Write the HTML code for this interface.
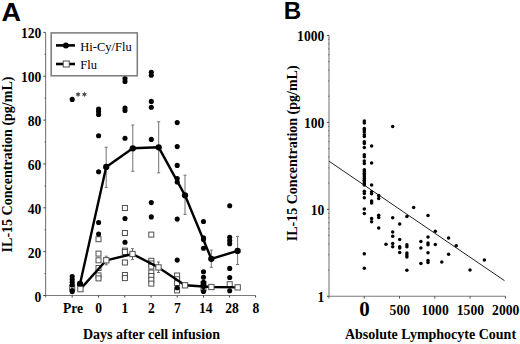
<!DOCTYPE html>
<html><head><meta charset="utf-8"><style>
html,body{margin:0;padding:0;background:#fff;}
body{width:520px;height:344px;overflow:hidden;}
svg{display:block;}
.tl{font-family:"Liberation Serif",serif;font-weight:bold;font-size:13.6px;fill:#000;}
.tt{font-family:"Liberation Serif",serif;font-weight:bold;font-size:14px;fill:#000;}
.lg{font-family:"Liberation Serif",serif;font-size:13.1px;fill:#000;}
.pl{font-family:"Liberation Sans",sans-serif;font-weight:bold;fill:#000;}
</style></head><body>
<svg width="520" height="344" viewBox="0 0 520 344">
<rect width="520" height="344" fill="#fff"/>
<line x1="45.6" y1="32.4" x2="45.6" y2="297.5" stroke="#7a7a7a" stroke-width="1.1"/>
<line x1="43.4" y1="295.5" x2="255.8" y2="295.5" stroke="#7a7a7a" stroke-width="1.1"/>
<line x1="43.4" y1="295.50" x2="45.6" y2="295.50" stroke="#444" stroke-width="1"/>
<text x="41.3" y="301.50" class="tl" text-anchor="end">0</text>
<line x1="43.4" y1="251.65" x2="45.6" y2="251.65" stroke="#444" stroke-width="1"/>
<text x="41.3" y="257.65" class="tl" text-anchor="end">20</text>
<line x1="43.4" y1="207.80" x2="45.6" y2="207.80" stroke="#444" stroke-width="1"/>
<text x="41.3" y="213.80" class="tl" text-anchor="end">40</text>
<line x1="43.4" y1="163.95" x2="45.6" y2="163.95" stroke="#444" stroke-width="1"/>
<text x="41.3" y="169.95" class="tl" text-anchor="end">60</text>
<line x1="43.4" y1="120.10" x2="45.6" y2="120.10" stroke="#444" stroke-width="1"/>
<text x="41.3" y="126.10" class="tl" text-anchor="end">80</text>
<line x1="43.4" y1="76.25" x2="45.6" y2="76.25" stroke="#444" stroke-width="1"/>
<text x="41.3" y="82.25" class="tl" text-anchor="end">100</text>
<line x1="43.4" y1="32.40" x2="45.6" y2="32.40" stroke="#444" stroke-width="1"/>
<text x="41.3" y="38.40" class="tl" text-anchor="end">120</text>
<line x1="44.6" y1="273.57" x2="45.6" y2="273.57" stroke="#444" stroke-width="1"/>
<line x1="44.6" y1="229.72" x2="45.6" y2="229.72" stroke="#444" stroke-width="1"/>
<line x1="44.6" y1="185.88" x2="45.6" y2="185.88" stroke="#444" stroke-width="1"/>
<line x1="44.6" y1="142.03" x2="45.6" y2="142.03" stroke="#444" stroke-width="1"/>
<line x1="44.6" y1="98.17" x2="45.6" y2="98.17" stroke="#444" stroke-width="1"/>
<line x1="44.6" y1="54.32" x2="45.6" y2="54.32" stroke="#444" stroke-width="1"/>
<line x1="72.2" y1="295.5" x2="72.2" y2="297.6" stroke="#444" stroke-width="1"/>
<text x="73.00" y="313.3" class="tl" text-anchor="middle">Pre</text>
<line x1="98.5" y1="295.5" x2="98.5" y2="297.6" stroke="#444" stroke-width="1"/>
<text x="98.70" y="313.3" class="tl" text-anchor="middle">0</text>
<line x1="124.8" y1="295.5" x2="124.8" y2="297.6" stroke="#444" stroke-width="1"/>
<text x="125.00" y="313.3" class="tl" text-anchor="middle">1</text>
<line x1="151.2" y1="295.5" x2="151.2" y2="297.6" stroke="#444" stroke-width="1"/>
<text x="151.40" y="313.3" class="tl" text-anchor="middle">2</text>
<line x1="177.2" y1="295.5" x2="177.2" y2="297.6" stroke="#444" stroke-width="1"/>
<text x="177.40" y="313.3" class="tl" text-anchor="middle">7</text>
<line x1="203.5" y1="295.5" x2="203.5" y2="297.6" stroke="#444" stroke-width="1"/>
<text x="205.70" y="313.3" class="tl" text-anchor="middle">14</text>
<line x1="229.6" y1="295.5" x2="229.6" y2="297.6" stroke="#444" stroke-width="1"/>
<text x="232.10" y="313.3" class="tl" text-anchor="middle">28</text>
<line x1="255.6" y1="295.5" x2="255.6" y2="297.6" stroke="#444" stroke-width="1"/>
<text x="255.80" y="313.3" class="tl" text-anchor="middle">8</text>
<text x="151.5" y="338.8" class="tt" text-anchor="middle">Days after cell infusion</text>
<text transform="translate(11.6,164.5) rotate(-90)" class="tt" text-anchor="middle">IL-15 Concentration (pg/mL)</text>
<text transform="translate(1.4,20.7) scale(1.06,1)" class="pl" style="font-size:25.5px">A</text>
<rect x="69.70" y="285.10" width="5.0" height="5.0" fill="#fff" stroke="#505050" stroke-width="1"/>
<rect x="96.00" y="236.70" width="5.0" height="5.0" fill="#fff" stroke="#505050" stroke-width="1"/>
<rect x="96.00" y="251.10" width="5.0" height="5.0" fill="#fff" stroke="#505050" stroke-width="1"/>
<rect x="96.00" y="257.80" width="5.0" height="5.0" fill="#fff" stroke="#505050" stroke-width="1"/>
<rect x="96.00" y="265.50" width="5.0" height="5.0" fill="#fff" stroke="#505050" stroke-width="1"/>
<rect x="96.00" y="272.90" width="5.0" height="5.0" fill="#fff" stroke="#505050" stroke-width="1"/>
<rect x="96.00" y="275.90" width="5.0" height="5.0" fill="#fff" stroke="#505050" stroke-width="1"/>
<rect x="122.40" y="205.50" width="5.0" height="5.0" fill="#fff" stroke="#505050" stroke-width="1"/>
<rect x="122.40" y="230.50" width="5.0" height="5.0" fill="#fff" stroke="#505050" stroke-width="1"/>
<rect x="122.40" y="248.10" width="5.0" height="5.0" fill="#fff" stroke="#505050" stroke-width="1"/>
<rect x="122.40" y="249.50" width="5.0" height="5.0" fill="#fff" stroke="#505050" stroke-width="1"/>
<rect x="122.40" y="260.00" width="5.0" height="5.0" fill="#fff" stroke="#505050" stroke-width="1"/>
<rect x="122.40" y="272.50" width="5.0" height="5.0" fill="#fff" stroke="#505050" stroke-width="1"/>
<rect x="122.40" y="275.60" width="5.0" height="5.0" fill="#fff" stroke="#505050" stroke-width="1"/>
<rect x="148.80" y="232.10" width="5.0" height="5.0" fill="#fff" stroke="#505050" stroke-width="1"/>
<rect x="148.80" y="258.30" width="5.0" height="5.0" fill="#fff" stroke="#505050" stroke-width="1"/>
<rect x="148.80" y="260.90" width="5.0" height="5.0" fill="#fff" stroke="#505050" stroke-width="1"/>
<rect x="148.80" y="264.10" width="5.0" height="5.0" fill="#fff" stroke="#505050" stroke-width="1"/>
<rect x="148.80" y="270.00" width="5.0" height="5.0" fill="#fff" stroke="#505050" stroke-width="1"/>
<rect x="148.80" y="273.50" width="5.0" height="5.0" fill="#fff" stroke="#505050" stroke-width="1"/>
<rect x="148.80" y="277.30" width="5.0" height="5.0" fill="#fff" stroke="#505050" stroke-width="1"/>
<rect x="148.80" y="281.10" width="5.0" height="5.0" fill="#fff" stroke="#505050" stroke-width="1"/>
<rect x="174.60" y="273.00" width="5.0" height="5.0" fill="#fff" stroke="#505050" stroke-width="1"/>
<rect x="174.60" y="276.70" width="5.0" height="5.0" fill="#fff" stroke="#505050" stroke-width="1"/>
<rect x="174.60" y="280.70" width="5.0" height="5.0" fill="#fff" stroke="#505050" stroke-width="1"/>
<rect x="174.60" y="287.90" width="5.0" height="5.0" fill="#fff" stroke="#505050" stroke-width="1"/>
<rect x="201.00" y="281.50" width="5.0" height="5.0" fill="#fff" stroke="#505050" stroke-width="1"/>
<rect x="201.00" y="285.90" width="5.0" height="5.0" fill="#fff" stroke="#505050" stroke-width="1"/>
<rect x="227.20" y="281.70" width="5.0" height="5.0" fill="#fff" stroke="#505050" stroke-width="1"/>
<circle cx="72.2" cy="99.4" r="2.55" fill="#000"/>
<circle cx="72.2" cy="276.5" r="2.55" fill="#000"/>
<circle cx="72.2" cy="279.5" r="2.55" fill="#000"/>
<circle cx="72.2" cy="282.3" r="2.55" fill="#000"/>
<circle cx="72.2" cy="285.0" r="2.55" fill="#000"/>
<circle cx="72.2" cy="290.6" r="2.55" fill="#000"/>
<circle cx="72.2" cy="291.6" r="2.55" fill="#000"/>
<circle cx="98.6" cy="109" r="2.55" fill="#000"/>
<circle cx="98.6" cy="111.5" r="2.55" fill="#000"/>
<circle cx="98.6" cy="114.5" r="2.55" fill="#000"/>
<circle cx="98.6" cy="135.8" r="2.55" fill="#000"/>
<circle cx="98.6" cy="171.7" r="2.55" fill="#000"/>
<circle cx="98.6" cy="222.5" r="2.55" fill="#000"/>
<circle cx="98.6" cy="234" r="2.55" fill="#000"/>
<circle cx="125.0" cy="78.5" r="2.55" fill="#000"/>
<circle cx="125.0" cy="81.5" r="2.55" fill="#000"/>
<circle cx="125.0" cy="108" r="2.55" fill="#000"/>
<circle cx="125.0" cy="110.5" r="2.55" fill="#000"/>
<circle cx="125.0" cy="138.2" r="2.55" fill="#000"/>
<circle cx="125.0" cy="218.5" r="2.55" fill="#000"/>
<circle cx="125.0" cy="242.3" r="2.55" fill="#000"/>
<circle cx="151.3" cy="72.3" r="2.55" fill="#000"/>
<circle cx="151.3" cy="75.3" r="2.55" fill="#000"/>
<circle cx="151.3" cy="101.4" r="2.55" fill="#000"/>
<circle cx="151.3" cy="107.2" r="2.55" fill="#000"/>
<circle cx="151.3" cy="139.4" r="2.55" fill="#000"/>
<circle cx="151.3" cy="202.6" r="2.55" fill="#000"/>
<circle cx="151.3" cy="216.9" r="2.55" fill="#000"/>
<circle cx="177.2" cy="122.6" r="2.55" fill="#000"/>
<circle cx="177.2" cy="146.6" r="2.55" fill="#000"/>
<circle cx="177.2" cy="165.4" r="2.55" fill="#000"/>
<circle cx="177.2" cy="178.5" r="2.55" fill="#000"/>
<circle cx="177.2" cy="182" r="2.55" fill="#000"/>
<circle cx="177.2" cy="219.1" r="2.55" fill="#000"/>
<circle cx="177.2" cy="260.1" r="2.55" fill="#000"/>
<circle cx="177.2" cy="287.8" r="2.55" fill="#000"/>
<circle cx="203.5" cy="221.5" r="2.55" fill="#000"/>
<circle cx="203.5" cy="237.8" r="2.55" fill="#000"/>
<circle cx="203.5" cy="239.6" r="2.55" fill="#000"/>
<circle cx="203.5" cy="248.3" r="2.55" fill="#000"/>
<circle cx="203.5" cy="271.7" r="2.55" fill="#000"/>
<circle cx="203.5" cy="277.3" r="2.55" fill="#000"/>
<circle cx="203.5" cy="282.3" r="2.55" fill="#000"/>
<circle cx="203.5" cy="284.4" r="2.55" fill="#000"/>
<circle cx="203.5" cy="286.5" r="2.55" fill="#000"/>
<circle cx="203.5" cy="291.5" r="2.55" fill="#000"/>
<circle cx="229.7" cy="205.8" r="2.55" fill="#000"/>
<circle cx="229.7" cy="237.3" r="2.55" fill="#000"/>
<circle cx="229.7" cy="240.6" r="2.55" fill="#000"/>
<circle cx="229.7" cy="243.8" r="2.55" fill="#000"/>
<circle cx="229.7" cy="268.4" r="2.55" fill="#000"/>
<circle cx="229.7" cy="277.5" r="2.55" fill="#000"/>
<circle cx="229.7" cy="290.8" r="2.55" fill="#000"/>
<line x1="106.2" y1="147.2" x2="106.2" y2="187.4" stroke="#707070" stroke-width="1"/>
<line x1="104.7" y1="147.2" x2="107.7" y2="147.2" stroke="#707070" stroke-width="1"/>
<line x1="104.7" y1="187.4" x2="107.7" y2="187.4" stroke="#707070" stroke-width="1"/>
<line x1="132.8" y1="125" x2="132.8" y2="171.3" stroke="#707070" stroke-width="1"/>
<line x1="131.3" y1="125" x2="134.3" y2="125" stroke="#707070" stroke-width="1"/>
<line x1="131.3" y1="171.3" x2="134.3" y2="171.3" stroke="#707070" stroke-width="1"/>
<line x1="158.7" y1="121.8" x2="158.7" y2="172.8" stroke="#707070" stroke-width="1"/>
<line x1="157.2" y1="121.8" x2="160.2" y2="121.8" stroke="#707070" stroke-width="1"/>
<line x1="157.2" y1="172.8" x2="160.2" y2="172.8" stroke="#707070" stroke-width="1"/>
<line x1="185" y1="175.2" x2="185" y2="214.4" stroke="#707070" stroke-width="1"/>
<line x1="183.5" y1="175.2" x2="186.5" y2="175.2" stroke="#707070" stroke-width="1"/>
<line x1="183.5" y1="214.4" x2="186.5" y2="214.4" stroke="#707070" stroke-width="1"/>
<line x1="211.3" y1="250.1" x2="211.3" y2="267.3" stroke="#707070" stroke-width="1"/>
<line x1="209.8" y1="250.1" x2="212.8" y2="250.1" stroke="#707070" stroke-width="1"/>
<line x1="209.8" y1="267.3" x2="212.8" y2="267.3" stroke="#707070" stroke-width="1"/>
<line x1="237.6" y1="236.4" x2="237.6" y2="264.5" stroke="#707070" stroke-width="1"/>
<line x1="236.1" y1="236.4" x2="239.1" y2="236.4" stroke="#707070" stroke-width="1"/>
<line x1="236.1" y1="264.5" x2="239.1" y2="264.5" stroke="#707070" stroke-width="1"/>
<line x1="106.3" y1="256.2" x2="106.3" y2="264.8" stroke="#707070" stroke-width="1"/>
<line x1="104.8" y1="256.2" x2="107.8" y2="256.2" stroke="#707070" stroke-width="1"/>
<line x1="104.8" y1="264.8" x2="107.8" y2="264.8" stroke="#707070" stroke-width="1"/>
<line x1="132.5" y1="248.7" x2="132.5" y2="259.6" stroke="#707070" stroke-width="1"/>
<line x1="131.0" y1="248.7" x2="134.0" y2="248.7" stroke="#707070" stroke-width="1"/>
<line x1="131.0" y1="259.6" x2="134.0" y2="259.6" stroke="#707070" stroke-width="1"/>
<line x1="158.5" y1="262" x2="158.5" y2="272.5" stroke="#707070" stroke-width="1"/>
<line x1="157.0" y1="262" x2="160.0" y2="262" stroke="#707070" stroke-width="1"/>
<line x1="157.0" y1="272.5" x2="160.0" y2="272.5" stroke="#707070" stroke-width="1"/>
<polyline points="80,284 106.2,167 132.8,148.3 158.7,147.3 185,195.3 211.3,258.8 237.6,250.9" fill="none" stroke="#000" stroke-width="2.4" stroke-linejoin="round"/>
<polyline points="80.4,289.1 106.3,260.3 132.5,254 158.5,267.4 185,285.3 211.4,287 237.7,287.4" fill="none" stroke="#000" stroke-width="2.4" stroke-linejoin="round"/>
<circle cx="80" cy="284" r="3.15" fill="#000"/>
<circle cx="106.2" cy="167" r="3.15" fill="#000"/>
<circle cx="132.8" cy="148.3" r="3.15" fill="#000"/>
<circle cx="158.7" cy="147.3" r="3.15" fill="#000"/>
<circle cx="185" cy="195.3" r="3.15" fill="#000"/>
<circle cx="211.3" cy="258.8" r="3.15" fill="#000"/>
<circle cx="237.6" cy="250.9" r="3.15" fill="#000"/>
<rect x="77.75" y="286.45" width="5.3" height="5.3" fill="#fff" stroke="#505050" stroke-width="1"/>
<rect x="103.65" y="257.65" width="5.3" height="5.3" fill="#fff" stroke="#505050" stroke-width="1"/>
<rect x="129.85" y="251.35" width="5.3" height="5.3" fill="#fff" stroke="#505050" stroke-width="1"/>
<rect x="155.85" y="264.75" width="5.3" height="5.3" fill="#fff" stroke="#505050" stroke-width="1"/>
<rect x="182.35" y="282.65" width="5.3" height="5.3" fill="#fff" stroke="#505050" stroke-width="1"/>
<rect x="208.75" y="284.35" width="5.3" height="5.3" fill="#fff" stroke="#505050" stroke-width="1"/>
<rect x="235.05" y="284.75" width="5.3" height="5.3" fill="#fff" stroke="#505050" stroke-width="1"/>
<polygon points="78.10,91.60 78.80,93.19 80.52,93.00 79.50,94.40 80.52,95.80 78.80,95.61 78.10,97.20 77.40,95.61 75.68,95.80 76.70,94.40 75.68,93.00 77.40,93.19" fill="#4a4a4a"/>
<polygon points="84.40,91.60 85.10,93.19 86.82,93.00 85.80,94.40 86.82,95.80 85.10,95.61 84.40,97.20 83.70,95.61 81.98,95.80 83.00,94.40 81.98,93.00 83.70,93.19" fill="#4a4a4a"/>
<rect x="51.2" y="32.9" width="86.1" height="42.9" fill="#fff" stroke="#7a7a7a" stroke-width="1.5"/>
<line x1="56" y1="45.4" x2="75" y2="45.4" stroke="#000" stroke-width="2.6"/>
<circle cx="65.9" cy="45.6" r="3" fill="#000"/>
<line x1="56" y1="64" x2="75" y2="64" stroke="#000" stroke-width="2.6"/>
<rect x="63.2" y="61" width="6" height="6" fill="#fff" stroke="#505050" stroke-width="1"/>
<text transform="translate(80.3,50.9) scale(0.955,1)" class="lg">Hi-Cy/Flu</text>
<text transform="translate(80.3,69.4) scale(0.955,1)" class="lg">Flu</text>
<line x1="329.0" y1="35.4" x2="329.0" y2="298.6" stroke="#7a7a7a" stroke-width="1.1"/>
<line x1="329.0" y1="296.3" x2="505.6" y2="296.3" stroke="#7a7a7a" stroke-width="1.1"/>
<line x1="327" y1="35.40" x2="329.0" y2="35.40" stroke="#444" stroke-width="1"/>
<text x="324.3" y="40.70" class="tl" text-anchor="end">1000</text>
<line x1="327" y1="122.37" x2="329.0" y2="122.37" stroke="#444" stroke-width="1"/>
<text x="324.3" y="127.67" class="tl" text-anchor="end">100</text>
<line x1="327" y1="209.33" x2="329.0" y2="209.33" stroke="#444" stroke-width="1"/>
<text x="324.3" y="214.63" class="tl" text-anchor="end">10</text>
<line x1="327" y1="296.30" x2="329.0" y2="296.30" stroke="#444" stroke-width="1"/>
<text x="324.3" y="301.60" class="tl" text-anchor="end">1</text>
<line x1="328.0" y1="270.12" x2="329.3" y2="270.12" stroke="#777" stroke-width="1"/>
<line x1="328.0" y1="254.81" x2="329.3" y2="254.81" stroke="#777" stroke-width="1"/>
<line x1="328.0" y1="243.94" x2="329.3" y2="243.94" stroke="#777" stroke-width="1"/>
<line x1="328.0" y1="235.51" x2="329.3" y2="235.51" stroke="#777" stroke-width="1"/>
<line x1="328.0" y1="228.63" x2="329.3" y2="228.63" stroke="#777" stroke-width="1"/>
<line x1="328.0" y1="222.80" x2="329.3" y2="222.80" stroke="#777" stroke-width="1"/>
<line x1="328.0" y1="217.76" x2="329.3" y2="217.76" stroke="#777" stroke-width="1"/>
<line x1="328.0" y1="213.31" x2="329.3" y2="213.31" stroke="#777" stroke-width="1"/>
<line x1="328.0" y1="183.15" x2="329.3" y2="183.15" stroke="#777" stroke-width="1"/>
<line x1="328.0" y1="167.84" x2="329.3" y2="167.84" stroke="#777" stroke-width="1"/>
<line x1="328.0" y1="156.97" x2="329.3" y2="156.97" stroke="#777" stroke-width="1"/>
<line x1="328.0" y1="148.55" x2="329.3" y2="148.55" stroke="#777" stroke-width="1"/>
<line x1="328.0" y1="141.66" x2="329.3" y2="141.66" stroke="#777" stroke-width="1"/>
<line x1="328.0" y1="135.84" x2="329.3" y2="135.84" stroke="#777" stroke-width="1"/>
<line x1="328.0" y1="130.79" x2="329.3" y2="130.79" stroke="#777" stroke-width="1"/>
<line x1="328.0" y1="126.35" x2="329.3" y2="126.35" stroke="#777" stroke-width="1"/>
<line x1="328.0" y1="96.19" x2="329.3" y2="96.19" stroke="#777" stroke-width="1"/>
<line x1="328.0" y1="80.87" x2="329.3" y2="80.87" stroke="#777" stroke-width="1"/>
<line x1="328.0" y1="70.01" x2="329.3" y2="70.01" stroke="#777" stroke-width="1"/>
<line x1="328.0" y1="61.58" x2="329.3" y2="61.58" stroke="#777" stroke-width="1"/>
<line x1="328.0" y1="54.69" x2="329.3" y2="54.69" stroke="#777" stroke-width="1"/>
<line x1="328.0" y1="48.87" x2="329.3" y2="48.87" stroke="#777" stroke-width="1"/>
<line x1="328.0" y1="43.83" x2="329.3" y2="43.83" stroke="#777" stroke-width="1"/>
<line x1="328.0" y1="39.38" x2="329.3" y2="39.38" stroke="#777" stroke-width="1"/>
<line x1="364.20" y1="296.3" x2="364.20" y2="298.5" stroke="#444" stroke-width="1"/>
<text x="364.40" y="316.4" class="tl" text-anchor="middle" style="font-size:21px">0</text>
<line x1="399.50" y1="296.3" x2="399.50" y2="298.5" stroke="#444" stroke-width="1"/>
<text x="399.80" y="314.5" class="tl" text-anchor="middle">500</text>
<line x1="434.80" y1="296.3" x2="434.80" y2="298.5" stroke="#444" stroke-width="1"/>
<text x="435.10" y="314.5" class="tl" text-anchor="middle">1000</text>
<line x1="470.10" y1="296.3" x2="470.10" y2="298.5" stroke="#444" stroke-width="1"/>
<text x="470.40" y="314.5" class="tl" text-anchor="middle">1500</text>
<line x1="505.40" y1="296.3" x2="505.40" y2="298.5" stroke="#444" stroke-width="1"/>
<text x="505.70" y="314.5" class="tl" text-anchor="middle">2000</text>
<text x="430.5" y="339.3" class="tt" text-anchor="middle">Absolute Lymphocyte Count</text>
<text transform="translate(296.5,153.3) rotate(-90)" class="tt" text-anchor="middle">IL-15 Concentration (pg/mL)</text>
<text x="283.8" y="18.7" class="pl" style="font-size:24.2px">B</text>
<line x1="329.0" y1="161.20" x2="504.5" y2="280.67" stroke="#222" stroke-width="1"/>
<circle cx="364.3" cy="121" r="1.75" fill="#000"/>
<circle cx="364.3" cy="122.9" r="1.75" fill="#000"/>
<circle cx="364.3" cy="128.4" r="1.75" fill="#000"/>
<circle cx="364.3" cy="130.1" r="1.75" fill="#000"/>
<circle cx="364.3" cy="131.9" r="1.75" fill="#000"/>
<circle cx="364.3" cy="134.8" r="1.75" fill="#000"/>
<circle cx="364.3" cy="136.5" r="1.75" fill="#000"/>
<circle cx="364.3" cy="141.7" r="1.75" fill="#000"/>
<circle cx="364.3" cy="143.5" r="1.75" fill="#000"/>
<circle cx="364.3" cy="147.6" r="1.75" fill="#000"/>
<circle cx="364.3" cy="154.7" r="1.75" fill="#000"/>
<circle cx="364.3" cy="156.7" r="1.75" fill="#000"/>
<circle cx="364.3" cy="161" r="1.75" fill="#000"/>
<circle cx="364.3" cy="163.4" r="1.75" fill="#000"/>
<circle cx="364.3" cy="169.8" r="1.75" fill="#000"/>
<circle cx="364.3" cy="171.5" r="1.75" fill="#000"/>
<circle cx="364.3" cy="173.3" r="1.75" fill="#000"/>
<circle cx="364.3" cy="175" r="1.75" fill="#000"/>
<circle cx="364.3" cy="176.7" r="1.75" fill="#000"/>
<circle cx="364.3" cy="178.5" r="1.75" fill="#000"/>
<circle cx="364.3" cy="180.2" r="1.75" fill="#000"/>
<circle cx="364.3" cy="182" r="1.75" fill="#000"/>
<circle cx="364.3" cy="183.7" r="1.75" fill="#000"/>
<circle cx="364.3" cy="184.9" r="1.75" fill="#000"/>
<circle cx="364.3" cy="191.2" r="1.75" fill="#000"/>
<circle cx="364.3" cy="193.4" r="1.75" fill="#000"/>
<circle cx="364.3" cy="197.8" r="1.75" fill="#000"/>
<circle cx="364.3" cy="208.9" r="1.75" fill="#000"/>
<circle cx="364.3" cy="213.4" r="1.75" fill="#000"/>
<circle cx="364.3" cy="253.8" r="1.75" fill="#000"/>
<circle cx="364.3" cy="268.3" r="1.75" fill="#000"/>
<circle cx="371.6" cy="145.9" r="1.75" fill="#000"/>
<circle cx="371.6" cy="163" r="1.75" fill="#000"/>
<circle cx="371.6" cy="185.1" r="1.75" fill="#000"/>
<circle cx="371.6" cy="191.8" r="1.75" fill="#000"/>
<circle cx="371.6" cy="193.8" r="1.75" fill="#000"/>
<circle cx="371.6" cy="201" r="1.75" fill="#000"/>
<circle cx="371.6" cy="203" r="1.75" fill="#000"/>
<circle cx="371.6" cy="218.5" r="1.75" fill="#000"/>
<circle cx="371.6" cy="221.8" r="1.75" fill="#000"/>
<circle cx="378.7" cy="195.6" r="1.75" fill="#000"/>
<circle cx="378.7" cy="198.5" r="1.75" fill="#000"/>
<circle cx="378.7" cy="215.3" r="1.75" fill="#000"/>
<circle cx="378.7" cy="217.4" r="1.75" fill="#000"/>
<circle cx="378.7" cy="228" r="1.75" fill="#000"/>
<circle cx="392.7" cy="126.6" r="1.75" fill="#000"/>
<circle cx="392.7" cy="217.7" r="1.75" fill="#000"/>
<circle cx="392.7" cy="232" r="1.75" fill="#000"/>
<circle cx="392.7" cy="236.3" r="1.75" fill="#000"/>
<circle cx="392.7" cy="243.5" r="1.75" fill="#000"/>
<circle cx="392.7" cy="246.8" r="1.75" fill="#000"/>
<circle cx="386" cy="244.2" r="1.75" fill="#000"/>
<circle cx="399.7" cy="224" r="1.75" fill="#000"/>
<circle cx="399.7" cy="239.4" r="1.75" fill="#000"/>
<circle cx="399.7" cy="246.7" r="1.75" fill="#000"/>
<circle cx="399.7" cy="248.1" r="1.75" fill="#000"/>
<circle cx="399.7" cy="252.5" r="1.75" fill="#000"/>
<circle cx="406.9" cy="216.5" r="1.75" fill="#000"/>
<circle cx="406.9" cy="244.8" r="1.75" fill="#000"/>
<circle cx="406.9" cy="246.7" r="1.75" fill="#000"/>
<circle cx="406.9" cy="253.1" r="1.75" fill="#000"/>
<circle cx="406.9" cy="255" r="1.75" fill="#000"/>
<circle cx="406.9" cy="256.9" r="1.75" fill="#000"/>
<circle cx="406.9" cy="270.3" r="1.75" fill="#000"/>
<circle cx="413.7" cy="207.5" r="1.75" fill="#000"/>
<circle cx="420.9" cy="241.5" r="1.75" fill="#000"/>
<circle cx="420.9" cy="248.1" r="1.75" fill="#000"/>
<circle cx="420.9" cy="263.5" r="1.75" fill="#000"/>
<circle cx="428" cy="215.6" r="1.75" fill="#000"/>
<circle cx="428" cy="237.1" r="1.75" fill="#000"/>
<circle cx="428" cy="242.9" r="1.75" fill="#000"/>
<circle cx="428" cy="244.8" r="1.75" fill="#000"/>
<circle cx="428" cy="252.8" r="1.75" fill="#000"/>
<circle cx="428" cy="260.4" r="1.75" fill="#000"/>
<circle cx="428" cy="262.4" r="1.75" fill="#000"/>
<circle cx="435.3" cy="231.3" r="1.75" fill="#000"/>
<circle cx="435.3" cy="244.4" r="1.75" fill="#000"/>
<circle cx="441.8" cy="262.1" r="1.75" fill="#000"/>
<circle cx="448.6" cy="237.9" r="1.75" fill="#000"/>
<circle cx="448.6" cy="254.3" r="1.75" fill="#000"/>
<circle cx="456.2" cy="245.7" r="1.75" fill="#000"/>
<circle cx="470" cy="270" r="1.75" fill="#000"/>
<circle cx="484.4" cy="260" r="1.75" fill="#000"/>
</svg>
</body></html>
